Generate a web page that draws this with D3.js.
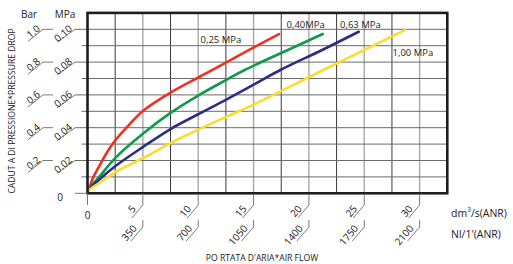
<!DOCTYPE html>
<html>
<head>
<meta charset="utf-8">
<script src="https://cdn.jsdelivr.net/npm/d3@7"></script>
<style>
  body { margin: 0; background: #fff; }
  svg { font-family: "Open Sans", sans-serif; }
</style>
</head>
<body>
<div id="chart"></div>
<script>
// flow (dm3/s) and pressure drop (MPa), one pair per inlet pressure
const seriesNames = ["0,25 MPa", "0,40MPa", "0,63 MPa", "1,00 MPa"];
const colors = ["#ee3124", "#0d9a4a", "#2e2d84", "#fbdc2e"];

const flow025 = [0.1, 0.5, 1, 1.7, 2.5, 3.7, 5, 7.5, 10, 12.5, 14.6, 17.3];
const drop025 = [0.002, 0.0095, 0.0158, 0.0243, 0.0322, 0.0413, 0.0502, 0.0614, 0.0706, 0.0797, 0.0874, 0.0971];

const flow040 = [0.1, 0.5, 1, 2.5, 5, 7.5, 10, 12.5, 14.2, 18.1, 21.25];
const drop040 = [0.002, 0.0058, 0.0095, 0.0215, 0.0363, 0.049, 0.0596, 0.069, 0.0752, 0.0874, 0.0971];

const flow063 = [0.1, 0.5, 1, 2.5, 5, 7.5, 10, 12.5, 15, 17.5, 21.2, 24.5];
const drop063 = [0.002, 0.005, 0.008, 0.0165, 0.0282, 0.0392, 0.0482, 0.057, 0.0662, 0.0755, 0.0874, 0.0985];

const flow100 = [0.1, 0.5, 1, 2.5, 5, 7.5, 10, 12.5, 15, 21.3, 25, 28.7];
const drop100 = [0.002, 0.0038, 0.006, 0.0128, 0.0214, 0.0306, 0.0388, 0.0465, 0.0541, 0.0752, 0.0874, 0.0996];

const xTicks = [5, 10, 15, 20, 25, 30];
const xLabelsDm = ["5", "10", "15", "20", "25", "30"];
const xLabelsNl = ["350", "700", "1050", "1400", "1750", "2100"];
const yTicks = [0.02, 0.04, 0.06, 0.08, 0.10];
const yLabelsMPa = ["0.02", "0.04", "0.06", "0.08", "0.10"];
const yLabelsBar = ["0.2", "0.4", "0.6", "0.8", "1.0"];

const width = 513, height = 264;

const svg = d3.select("#chart").append("svg")
    .attr("width", width)
    .attr("height", height);

const x = d3.scaleLinear().domain([0, 32.5]).range([87.5, 447.3]);
const y = d3.scaleLinear().domain([0, 0.11]).range([193.3, 12.9]);

// grid
const vGrid = d3.range(1, 13).map(i => i * 2.5);
svg.append("g").selectAll("line")
    .data(vGrid)
    .enter().append("line")
    .attr("x1", d => x(d)).attr("x2", d => x(d))
    .attr("y1", y(0.11)).attr("y2", y(0))
    .attr("stroke", (d, i) => i % 2 ? "#a8a8a8" : "#3a3a3a")
    .attr("stroke-width", (d, i) => i % 2 ? 1.4 : 1);

const hGrid = d3.range(1, 11).map(i => i / 100);
svg.append("g").selectAll("line")
    .data(hGrid)
    .enter().append("line")
    .attr("x1", (d, i) => i % 2 ? 75 : 81.5).attr("x2", x(32.5))
    .attr("y1", d => y(d)).attr("y2", d => y(d))
    .attr("stroke", "#6a6a6a")
    .attr("stroke-width", 1);

// curves
const line = d3.line()
    .x(d => x(d[0]))
    .y(d => y(d[1]))
    .curve(d3.curveCatmullRom.alpha(0.5));

const flows = [flow025, flow040, flow063, flow100];
const drops = [drop025, drop040, drop063, drop100];

flows.forEach((f, k) => {
    svg.append("path")
        .datum(f.map((v, i) => [v, drops[k][i]]))
        .attr("d", line)
        .attr("fill", "none")
        .attr("stroke", colors[k])
        .attr("stroke-width", 2.6)
        .attr("stroke-linecap", "round");
});

// frame
svg.append("rect")
    .attr("x", x(0)).attr("y", y(0.11))
    .attr("width", x(32.5) - x(0))
    .attr("height", y(0) - y(0.11))
    .attr("fill", "none")
    .attr("stroke", "#1e1e1e")
    .attr("stroke-width", 2.6);

// series labels
const labelPos = [[200.5, 42.5], [286.5, 27.5], [340, 27.5], [392.5, 55.5]];
svg.append("g").selectAll("text")
    .data(seriesNames)
    .enter().append("text")
    .attr("x", (d, i) => labelPos[i][0])
    .attr("y", (d, i) => labelPos[i][1])
    .attr("font-size", 9.5)
    .attr("fill", "#222")
    .text(d => d);

// x axis ticks, two rows
const tickCol = "#7a7a7a";
const gx = svg.append("g");
gx.append("line")
    .attr("x1", x(0)).attr("x2", x(0))
    .attr("y1", 194).attr("y2", 205)
    .attr("stroke", tickCol);
gx.append("text")
    .attr("x", x(0)).attr("y", 219)
    .attr("text-anchor", "middle")
    .attr("font-size", 10)
    .attr("fill", "#222")
    .text("0");

xTicks.forEach((t, i) => {
    const px = x(t);
    gx.append("polyline")
        .attr("points", `${px},194 ${px},205 ${px - 11},218`)
        .attr("fill", "none").attr("stroke", tickCol);
    gx.append("text")
        .attr("transform", `translate(${px - 6.5},209) rotate(-50)`)
        .attr("text-anchor", "end")
        .attr("font-size", 10)
        .attr("fill", "#1a1a1a")
        .text(xLabelsDm[i]);
    gx.append("polyline")
        .attr("points", `${px},220 ${px},227 ${px - 12},241`)
        .attr("fill", "none").attr("stroke", tickCol);
    gx.append("text")
        .attr("transform", `translate(${px - 5.5},228.5) rotate(-50)`)
        .attr("text-anchor", "end")
        .attr("font-size", 10)
        .attr("fill", "#1a1a1a")
        .text(xLabelsNl[i]);
});

// y axis ticks, MPa and Bar
const gy = svg.append("g");
gy.append("line")
    .attr("x1", 75).attr("x2", x(0))
    .attr("y1", y(0)).attr("y2", y(0))
    .attr("stroke", tickCol);
gy.append("text")
    .attr("x", 60).attr("y", 201)
    .attr("text-anchor", "middle")
    .attr("font-size", 10)
    .attr("fill", "#222")
    .text("0");

yTicks.forEach((t, i) => {
    const py = y(t);
    gy.append("line")
        .attr("x1", 75).attr("x2", 57)
        .attr("y1", py).attr("y2", py + 13)
        .attr("stroke", tickCol);
    gy.append("text")
        .attr("transform", `translate(73,${py + 0.5}) rotate(-40)`)
        .attr("text-anchor", "end")
        .attr("font-size", 10)
        .attr("fill", "#1a1a1a")
        .text(yLabelsMPa[i]);
    gy.append("polyline")
        .attr("points", `${53},${py} ${43},${py} ${28},${py + 12}`)
        .attr("fill", "none").attr("stroke", tickCol);
    gy.append("text")
        .attr("transform", `translate(41,${py + 0.5}) rotate(-40)`)
        .attr("text-anchor", "end")
        .attr("font-size", 10)
        .attr("fill", "#1a1a1a")
        .text(yLabelsBar[i]);
});

// unit headers and titles
svg.append("text").attr("x", 29).attr("y", 18)
    .attr("text-anchor", "middle").attr("font-size", 10).attr("fill", "#222")
    .text("Bar");
svg.append("text").attr("x", 65).attr("y", 18)
    .attr("text-anchor", "middle").attr("font-size", 10).attr("fill", "#222")
    .text("MPa");

svg.append("text")
    .attr("transform", "translate(15,111) rotate(-90)")
    .attr("text-anchor", "middle")
    .attr("font-size", 8.6)
    .attr("fill", "#222")
    .text("CADUT A DI PRESSIONE*PRESSURE DROP");

svg.append("text")
    .attr("x", 262).attr("y", 261)
    .attr("text-anchor", "middle")
    .attr("font-size", 8.6)
    .attr("fill", "#222")
    .text("PO RTATA D'ARIA*AIR FLOW");

const unit1 = svg.append("text")
    .attr("x", 451).attr("y", 217)
    .attr("font-size", 10.5).attr("fill", "#222");
unit1.append("tspan").text("dm");
unit1.append("tspan").attr("font-size", 6.5).attr("dy", -5).text("3");
unit1.append("tspan").attr("dy", 5).text("/s(ANR)");

svg.append("text")
    .attr("x", 451).attr("y", 238)
    .attr("font-size", 10.5).attr("fill", "#222")
    .text("Nl/1'(ANR)");
</script>
</body>
</html>
